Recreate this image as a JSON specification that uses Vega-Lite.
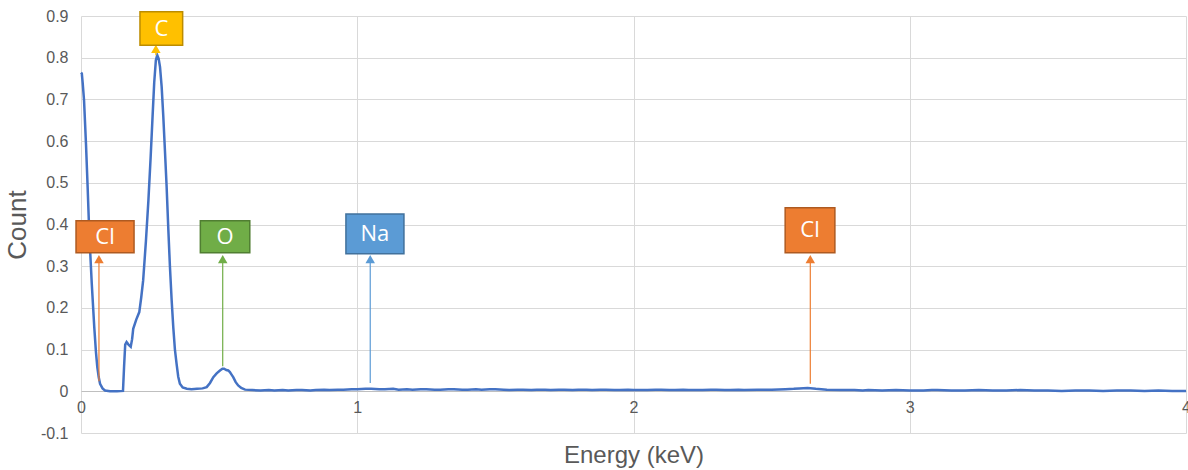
{
  "$schema": "https://vega.github.io/schema/vega-lite/v6.json",
  "width": 1105,
  "height": 417,
  "autosize": {"type": "none"},
  "padding": {"left": 81, "top": 16, "right": 2, "bottom": 37},
  "background": "white",
  "config": {
    "view": {"stroke": null},
    "font": "Liberation Sans",
    "axis": {"gridColor": "#d9d9d9", "gridWidth": 1, "labelColor": "#595959", "titleColor": "#595959", "labelFont": "Liberation Sans", "titleFont": "Liberation Sans", "titleFontWeight": "normal", "ticks": false}
  },
  "datasets": {
    "spec": [
      {"e": 0.000, "c": 0.764}, {"e": 0.003, "c": 0.762}, {"e": 0.006, "c": 0.740}, {"e": 0.011, "c": 0.698},
      {"e": 0.018, "c": 0.594}, {"e": 0.024, "c": 0.490}, {"e": 0.030, "c": 0.378}, {"e": 0.039, "c": 0.258},
      {"e": 0.048, "c": 0.154}, {"e": 0.054, "c": 0.095}, {"e": 0.059, "c": 0.058}, {"e": 0.064, "c": 0.034},
      {"e": 0.069, "c": 0.018}, {"e": 0.078, "c": 0.007}, {"e": 0.087, "c": 0.002}, {"e": 0.105, "c": 0.000},
      {"e": 0.130, "c": 0.000}, {"e": 0.152, "c": 0.001}, {"e": 0.156, "c": 0.060}, {"e": 0.160, "c": 0.112},
      {"e": 0.165, "c": 0.118}, {"e": 0.172, "c": 0.112}, {"e": 0.180, "c": 0.107}, {"e": 0.185, "c": 0.125},
      {"e": 0.189, "c": 0.150}, {"e": 0.200, "c": 0.172}, {"e": 0.211, "c": 0.190}, {"e": 0.218, "c": 0.225},
      {"e": 0.225, "c": 0.266}, {"e": 0.235, "c": 0.360}, {"e": 0.244, "c": 0.458}, {"e": 0.252, "c": 0.560},
      {"e": 0.259, "c": 0.658}, {"e": 0.265, "c": 0.740}, {"e": 0.271, "c": 0.794}, {"e": 0.276, "c": 0.806},
      {"e": 0.281, "c": 0.798}, {"e": 0.286, "c": 0.778}, {"e": 0.292, "c": 0.730}, {"e": 0.298, "c": 0.658},
      {"e": 0.304, "c": 0.575}, {"e": 0.310, "c": 0.490}, {"e": 0.316, "c": 0.390}, {"e": 0.322, "c": 0.298},
      {"e": 0.328, "c": 0.220}, {"e": 0.334, "c": 0.154}, {"e": 0.340, "c": 0.100}, {"e": 0.346, "c": 0.066},
      {"e": 0.352, "c": 0.035}, {"e": 0.358, "c": 0.018}, {"e": 0.368, "c": 0.009}, {"e": 0.383, "c": 0.006},
      {"e": 0.400, "c": 0.005}, {"e": 0.420, "c": 0.006}, {"e": 0.440, "c": 0.007}, {"e": 0.455, "c": 0.010},
      {"e": 0.467, "c": 0.020}, {"e": 0.479, "c": 0.034}, {"e": 0.491, "c": 0.043}, {"e": 0.503, "c": 0.050},
      {"e": 0.512, "c": 0.054}, {"e": 0.518, "c": 0.054}, {"e": 0.526, "c": 0.051}, {"e": 0.533, "c": 0.050},
      {"e": 0.539, "c": 0.046}, {"e": 0.545, "c": 0.040}, {"e": 0.551, "c": 0.034}, {"e": 0.560, "c": 0.022},
      {"e": 0.569, "c": 0.014}, {"e": 0.580, "c": 0.008}, {"e": 0.594, "c": 0.004}, {"e": 0.620, "c": 0.003},
      {"e": 0.65, "c": 0.002}, {"e": 0.68, "c": 0.003}, {"e": 0.70, "c": 0.002}, {"e": 0.73, "c": 0.003}, {"e": 0.75, "c": 0.002}, {"e": 0.78, "c": 0.003}, {"e": 0.80, "c": 0.003},
      {"e": 0.83, "c": 0.002}, {"e": 0.85, "c": 0.003}, {"e": 0.88, "c": 0.004}, {"e": 0.90, "c": 0.003}, {"e": 0.93, "c": 0.004}, {"e": 0.95, "c": 0.004}, {"e": 0.98, "c": 0.005}, {"e": 1.00, "c": 0.005},
      {"e": 1.03, "c": 0.006}, {"e": 1.05, "c": 0.006}, {"e": 1.08, "c": 0.005}, {"e": 1.10, "c": 0.005}, {"e": 1.13, "c": 0.006}, {"e": 1.15, "c": 0.004}, {"e": 1.18, "c": 0.005}, {"e": 1.20, "c": 0.004},
      {"e": 1.23, "c": 0.005}, {"e": 1.25, "c": 0.005}, {"e": 1.28, "c": 0.004}, {"e": 1.30, "c": 0.004}, {"e": 1.33, "c": 0.005}, {"e": 1.35, "c": 0.005}, {"e": 1.38, "c": 0.004}, {"e": 1.40, "c": 0.004},
      {"e": 1.43, "c": 0.005}, {"e": 1.45, "c": 0.004}, {"e": 1.48, "c": 0.005}, {"e": 1.50, "c": 0.005}, {"e": 1.53, "c": 0.004}, {"e": 1.55, "c": 0.003}, {"e": 1.58, "c": 0.004}, {"e": 1.60, "c": 0.004},
      {"e": 1.63, "c": 0.003}, {"e": 1.65, "c": 0.004}, {"e": 1.68, "c": 0.004}, {"e": 1.70, "c": 0.003}, {"e": 1.73, "c": 0.004}, {"e": 1.75, "c": 0.004}, {"e": 1.78, "c": 0.003}, {"e": 1.80, "c": 0.004},
      {"e": 1.83, "c": 0.004}, {"e": 1.85, "c": 0.003}, {"e": 1.88, "c": 0.004}, {"e": 1.90, "c": 0.004}, {"e": 1.93, "c": 0.003}, {"e": 1.95, "c": 0.003}, {"e": 1.98, "c": 0.004}, {"e": 2.00, "c": 0.003},
      {"e": 2.05, "c": 0.003}, {"e": 2.08, "c": 0.004}, {"e": 2.10, "c": 0.004}, {"e": 2.13, "c": 0.003}, {"e": 2.15, "c": 0.003}, {"e": 2.18, "c": 0.004}, {"e": 2.20, "c": 0.003},
      {"e": 2.25, "c": 0.003}, {"e": 2.28, "c": 0.004}, {"e": 2.30, "c": 0.004}, {"e": 2.33, "c": 0.003}, {"e": 2.35, "c": 0.003}, {"e": 2.38, "c": 0.004}, {"e": 2.40, "c": 0.003},
      {"e": 2.45, "c": 0.004}, {"e": 2.50, "c": 0.004}, {"e": 2.55, "c": 0.005}, {"e": 2.58, "c": 0.006}, {"e": 2.60, "c": 0.007},
      {"e": 2.63, "c": 0.008}, {"e": 2.66, "c": 0.006}, {"e": 2.70, "c": 0.004}, {"e": 2.75, "c": 0.003},
      {"e": 2.80, "c": 0.003}, {"e": 2.83, "c": 0.002}, {"e": 2.85, "c": 0.003}, {"e": 2.90, "c": 0.002}, {"e": 2.95, "c": 0.003},
      {"e": 3.00, "c": 0.002}, {"e": 3.05, "c": 0.002}, {"e": 3.08, "c": 0.003}, {"e": 3.10, "c": 0.003}, {"e": 3.15, "c": 0.002},
      {"e": 3.20, "c": 0.002}, {"e": 3.25, "c": 0.003}, {"e": 3.30, "c": 0.002}, {"e": 3.35, "c": 0.002},
      {"e": 3.40, "c": 0.003}, {"e": 3.45, "c": 0.002}, {"e": 3.50, "c": 0.002}, {"e": 3.55, "c": 0.001},
      {"e": 3.60, "c": 0.002}, {"e": 3.65, "c": 0.002}, {"e": 3.70, "c": 0.001}, {"e": 3.75, "c": 0.002},
      {"e": 3.80, "c": 0.002}, {"e": 3.85, "c": 0.001}, {"e": 3.90, "c": 0.002}, {"e": 3.95, "c": 0.001},
      {"e": 4.00, "c": 0.001}
    ],
    "ann": [
      {"el": "Cl", "ax": 0.065, "ybase": 0.024, "ytop": 0.322, "x1": -0.018, "x2": 0.192, "y1": 0.332, "y2": 0.409, "xc": 0.087, "yc": 0.370},
      {"el": "C", "ax": 0.271, "ybase": 0.806, "ytop": 0.826, "x1": 0.2135, "x2": 0.368, "y1": 0.830, "y2": 0.910, "xc": 0.291, "yc": 0.870},
      {"el": "O", "ax": 0.513, "ybase": 0.060, "ytop": 0.322, "x1": 0.432, "x2": 0.611, "y1": 0.332, "y2": 0.409, "xc": 0.5215, "yc": 0.370},
      {"el": "Na", "ax": 1.047, "ybase": 0.020, "ytop": 0.322, "x1": 0.959, "x2": 1.169, "y1": 0.330, "y2": 0.425, "xc": 1.064, "yc": 0.377},
      {"el": "Cl", "ax": 2.640, "ybase": 0.018, "ytop": 0.322, "x1": 2.549, "x2": 2.729, "y1": 0.332, "y2": 0.440, "xc": 2.639, "yc": 0.386}
    ]
  },
  "encoding": {
    "x": {"type": "quantitative", "scale": {"domain": [0, 4], "nice": false}},
    "y": {"type": "quantitative", "scale": {"domain": [-0.1, 0.9], "nice": false}}
  },
  "layer": [
    {
      "data": {"name": "spec"},
      "mark": {"type": "line", "color": "#4472C4", "strokeWidth": 2.5, "interpolate": "linear"},
      "encoding": {
        "x": {"field": "e", "type": "quantitative", "title": "Energy (keV)",
              "axis": {"values": [0, 1, 2, 3, 4], "format": "d", "offset": -42, "domainColor": "#bfbfbf", "labelFontSize": 16, "labelPadding": 8, "titleFontSize": 24, "titlePadding": 28, "labelFlush": false}},
        "y": {"field": "c", "type": "quantitative", "title": "Count",
              "axis": {"values": [-0.1, 0, 0.1, 0.2, 0.3, 0.4, 0.5, 0.6, 0.7, 0.8, 0.9], "domain": false, "labelFontSize": 16, "labelPadding": 13, "titleFontSize": 26, "titlePadding": 10,
                       "labelExpr": "replace(format(datum.value, '.1~f'), '\u2212', '-')"}}
      }
    },
    {
      "data": {"name": "ann"},
      "mark": {"type": "rule", "strokeWidth": 1.2},
      "encoding": {
        "x": {"field": "ax", "type": "quantitative"},
        "y": {"field": "ybase", "type": "quantitative"},
        "y2": {"field": "ytop"},
        "color": {"field": "el", "type": "nominal", "legend": null,
                  "scale": {"domain": ["Cl", "C", "O", "Na"], "range": ["#ED7D31", "#FFC000", "#70AD47", "#5B9BD5"]}}
      }
    },
    {
      "data": {"name": "ann"},
      "mark": {"type": "point", "shape": "triangle-up", "filled": true, "size": 90, "opacity": 1, "yOffset": 2},
      "encoding": {
        "x": {"field": "ax", "type": "quantitative"},
        "y": {"field": "ytop", "type": "quantitative"},
        "color": {"field": "el", "type": "nominal", "legend": null,
                  "scale": {"domain": ["Cl", "C", "O", "Na"], "range": ["#ED7D31", "#FFC000", "#70AD47", "#5B9BD5"]}}
      }
    },
    {
      "data": {"name": "ann"},
      "mark": {"type": "rect", "strokeWidth": 1.5},
      "encoding": {
        "x": {"field": "x1", "type": "quantitative"},
        "x2": {"field": "x2"},
        "y": {"field": "y1", "type": "quantitative"},
        "y2": {"field": "y2"},
        "fill": {"field": "el", "type": "nominal", "legend": null,
                 "scale": {"domain": ["Cl", "C", "O", "Na"], "range": ["#ED7D31", "#FFC000", "#70AD47", "#5B9BD5"]}},
        "stroke": {"field": "el", "type": "nominal", "legend": null,
                   "scale": {"domain": ["Cl", "C", "O", "Na"], "range": ["#AE5A21", "#BC8C00", "#507E32", "#41719C"]}}
      }
    },
    {
      "data": {"name": "ann"},
      "mark": {"type": "text", "color": "white", "fontSize": 22, "font": "Open Sans", "align": "center", "baseline": "middle"},
      "encoding": {
        "x": {"field": "xc", "type": "quantitative"},
        "y": {"field": "yc", "type": "quantitative"},
        "text": {"field": "el", "type": "nominal"}
      }
    }
  ]
}
